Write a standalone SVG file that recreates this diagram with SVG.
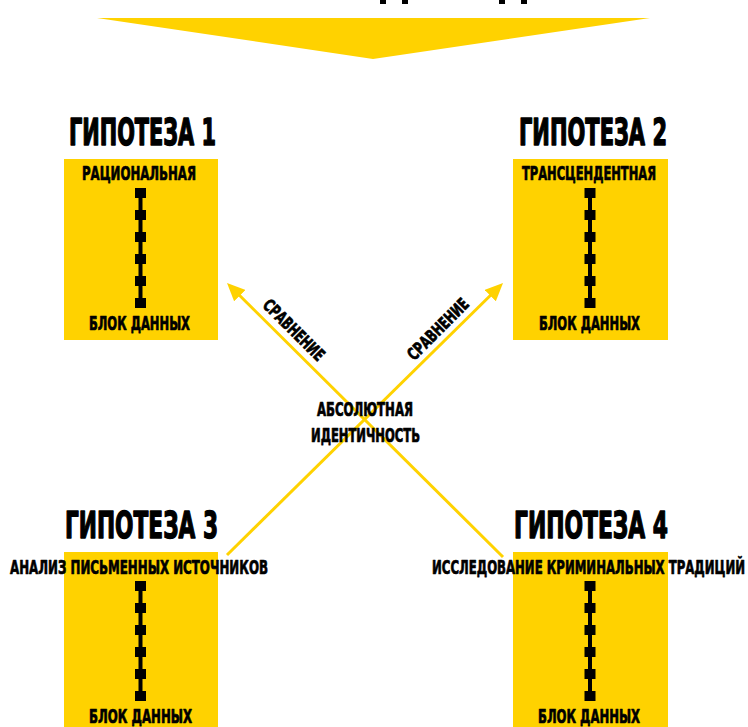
<svg xmlns="http://www.w3.org/2000/svg" width="748" height="727" viewBox="0 0 748 727">
<style>
.box{fill:#FFD200}
.t{font-family:"Liberation Sans Narrow","DejaVu Sans Condensed","Liberation Sans",sans-serif;font-weight:700;fill:#000;stroke:#000;stroke-linejoin:round}
.title{font-size:37px;stroke-width:1.4px}
.lab{font-size:19px;stroke-width:0.7px}
.sm{font-size:17px;stroke-width:0.7px}
.chain{stroke:#000;stroke-width:4}
.sq{fill:#000}
.conn{stroke:#FFD200;stroke-width:3;fill:none;marker-end:url(#ah)}
</style>
<defs>
<marker id="ah" markerUnits="userSpaceOnUse" markerWidth="18" markerHeight="16" refX="8" refY="8" orient="auto" viewBox="0 0 18 16">
<path d="M0,0 L18,8 L0,16 z" fill="#FFD200"/>
</marker>
<g id="chainDef">
<line class="chain" x1="0" y1="193" x2="0" y2="303"/>
<rect class="sq" x="-5.5" y="188" width="11" height="10"/>
<rect class="sq" x="-5.5" y="210" width="11" height="10"/>
<rect class="sq" x="-5.5" y="232" width="11" height="10"/>
<rect class="sq" x="-5.5" y="254" width="11" height="10"/>
<rect class="sq" x="-5.5" y="276" width="11" height="10"/>
<rect class="sq" x="-5.5" y="298" width="11" height="10"/>
</g>
</defs>
<rect width="748" height="727" fill="#fff"/>
<g id="header">
<rect class="sq" x="380" y="0" width="6" height="4"/>
<rect class="sq" x="402" y="0" width="6" height="4"/>
<rect class="sq" x="499" y="0" width="6" height="4"/>
<rect class="sq" x="521" y="0" width="6" height="4"/>
<polygon points="97,18 650,18 373,59" fill="#FFD200"/>
</g>
<g id="connectors">
<line class="conn" x1="503" y1="557" x2="234.1" y2="290"/>
<line class="conn" x1="227" y1="555" x2="495.9" y2="290"/>
<text class="t sm" transform="translate(294,330) rotate(45)" text-anchor="middle" y="6" textLength="79" lengthAdjust="spacingAndGlyphs">СРАВНЕНИЕ</text>
<text class="t sm" transform="translate(438,329) rotate(-45)" text-anchor="middle" y="6" textLength="79" lengthAdjust="spacingAndGlyphs">СРАВНЕНИЕ</text>
</g>
<g id="center">
<text class="t lab" x="317" y="416" textLength="96" lengthAdjust="spacingAndGlyphs">АБСОЛЮТНАЯ</text>
<text class="t lab" x="311" y="442" textLength="109" lengthAdjust="spacingAndGlyphs">ИДЕНТИЧНОСТЬ</text>
</g>
<g id="hyp1">
<text class="t title" x="69" y="145" textLength="147" lengthAdjust="spacingAndGlyphs">ГИПОТЕЗА 1</text>
<rect class="box" x="64" y="159" width="154" height="181"/>
<text class="t lab" x="82" y="180" textLength="114" lengthAdjust="spacingAndGlyphs">РАЦИОНАЛЬНАЯ</text>
<use href="#chainDef" x="140.5" y="0"/>
<text class="t lab" x="89" y="330" textLength="101" lengthAdjust="spacingAndGlyphs">БЛОК ДАННЫХ</text>
</g>
<g id="hyp2">
<text class="t title" x="519" y="145" textLength="148" lengthAdjust="spacingAndGlyphs">ГИПОТЕЗА 2</text>
<rect class="box" x="513" y="159" width="155" height="181"/>
<text class="t lab" x="522" y="180" textLength="134" lengthAdjust="spacingAndGlyphs">ТРАНСЦЕНДЕНТНАЯ</text>
<use href="#chainDef" x="590" y="0"/>
<text class="t lab" x="539" y="330" textLength="101" lengthAdjust="spacingAndGlyphs">БЛОК ДАННЫХ</text>
</g>
<g id="hyp3">
<text class="t title" x="65" y="538" textLength="153" lengthAdjust="spacingAndGlyphs">ГИПОТЕЗА 3</text>
<rect class="box" x="64" y="552" width="154" height="175"/>
<text class="t lab" x="10" y="574" textLength="258" lengthAdjust="spacingAndGlyphs">АНАЛИЗ ПИСЬМЕННЫХ ИСТОЧНИКОВ</text>
<use href="#chainDef" x="140.5" y="393"/>
<text class="t lab" x="89" y="723" textLength="103" lengthAdjust="spacingAndGlyphs">БЛОК ДАННЫХ</text>
</g>
<g id="hyp4">
<text class="t title" x="514" y="538" textLength="154" lengthAdjust="spacingAndGlyphs">ГИПОТЕЗА 4</text>
<rect class="box" x="513" y="552" width="155" height="175"/>
<text class="t lab" x="432" y="574" textLength="313" lengthAdjust="spacingAndGlyphs">ИССЛЕДОВАНИЕ КРИМИНАЛЬНЫХ ТРАДИЦИЙ</text>
<use href="#chainDef" x="590" y="393"/>
<text class="t lab" x="538" y="723" textLength="102" lengthAdjust="spacingAndGlyphs">БЛОК ДАННЫХ</text>
</g>
</svg>
